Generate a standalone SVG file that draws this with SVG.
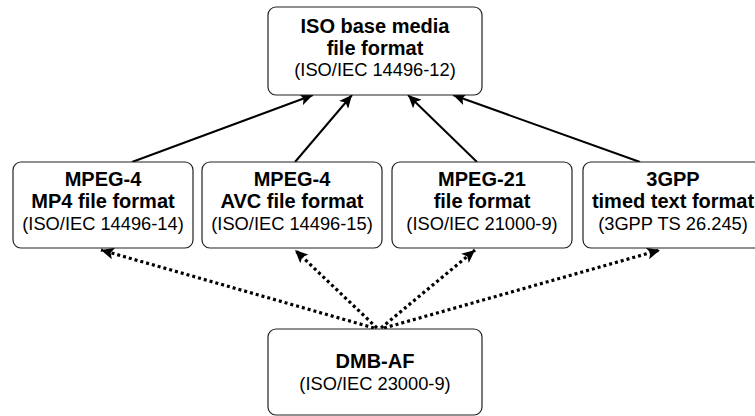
<svg xmlns="http://www.w3.org/2000/svg" width="755" height="416" viewBox="0 0 755 416">
<style>
  .box { fill: #fff; stroke: #222; stroke-width: 1.2; }
  .b { font-family: "Liberation Sans", Arial, sans-serif; font-weight: bold; font-size: 20px; fill: #000; text-anchor: middle; }
  .r { font-family: "Liberation Sans", Arial, sans-serif; font-size: 18.3px; fill: #000; text-anchor: middle; }
  .solid { fill: none; stroke: #000; stroke-width: 2; }
  .dot { fill: none; stroke: #000; stroke-width: 3.2; stroke-dasharray: 3 3; }
</style>
<defs>
  <marker id="ah" markerUnits="userSpaceOnUse" markerWidth="14" markerHeight="12" viewBox="0 0 14 12" refX="13" refY="6" orient="auto">
    <path d="M0,0 L13,6 L0,12 L3,6 z" fill="#000"/>
  </marker>
</defs>
<rect x="0" y="0" width="755" height="416" fill="#fff"/>
<g id="connectors">
  <line class="solid" x1="132" y1="162" x2="313" y2="95" marker-end="url(#ah)"/>
  <line class="solid" x1="295" y1="162" x2="352" y2="95" marker-end="url(#ah)"/>
  <line class="solid" x1="477" y1="162" x2="408" y2="95" marker-end="url(#ah)"/>
  <line class="solid" x1="640" y1="162" x2="453" y2="95" marker-end="url(#ah)"/>
  <line class="dot" x1="374" y1="328" x2="101" y2="250" marker-end="url(#ah)"/>
  <line class="dot" x1="377" y1="328" x2="295" y2="250" marker-end="url(#ah)"/>
  <line class="dot" x1="381" y1="328" x2="475" y2="250" marker-end="url(#ah)"/>
  <line class="dot" x1="384" y1="328" x2="660" y2="250" marker-end="url(#ah)"/>
</g>
<g id="iso-base">
  <rect class="box" x="268" y="7" width="214" height="88" rx="8"/>
  <text class="b" x="375" y="33">ISO base media</text>
  <text class="b" x="375" y="55">file format</text>
  <text class="r" x="375" y="76">(ISO/IEC 14496-12)</text>
</g>
<g id="mp4">
  <rect class="box" x="13" y="162" width="180" height="86" rx="8"/>
  <text class="b" x="103" y="186">MPEG-4</text>
  <text class="b" x="103" y="208">MP4 file format</text>
  <text class="r" x="103" y="230">(ISO/IEC 14496-14)</text>
</g>
<g id="avc">
  <rect class="box" x="202" y="162" width="180" height="86" rx="8"/>
  <text class="b" x="292" y="186">MPEG-4</text>
  <text class="b" x="292" y="208">AVC file format</text>
  <text class="r" x="292" y="230">(ISO/IEC 14496-15)</text>
</g>
<g id="mpeg21">
  <rect class="box" x="392" y="162" width="180" height="86" rx="8"/>
  <text class="b" x="482" y="186">MPEG-21</text>
  <text class="b" x="482" y="208">file format</text>
  <text class="r" x="482" y="230">(ISO/IEC 21000-9)</text>
</g>
<g id="3gpp">
  <rect class="box" x="583" y="162" width="180" height="86" rx="8"/>
  <text class="b" x="673" y="186">3GPP</text>
  <text class="b" x="673" y="208">timed text format</text>
  <text class="r" x="673" y="230">(3GPP TS 26.245)</text>
</g>
<g id="dmb-af">
  <rect class="box" x="268" y="329" width="214" height="86" rx="8"/>
  <text class="b" x="375" y="368">DMB-AF</text>
  <text class="r" x="375" y="390">(ISO/IEC 23000-9)</text>
</g>
</svg>
